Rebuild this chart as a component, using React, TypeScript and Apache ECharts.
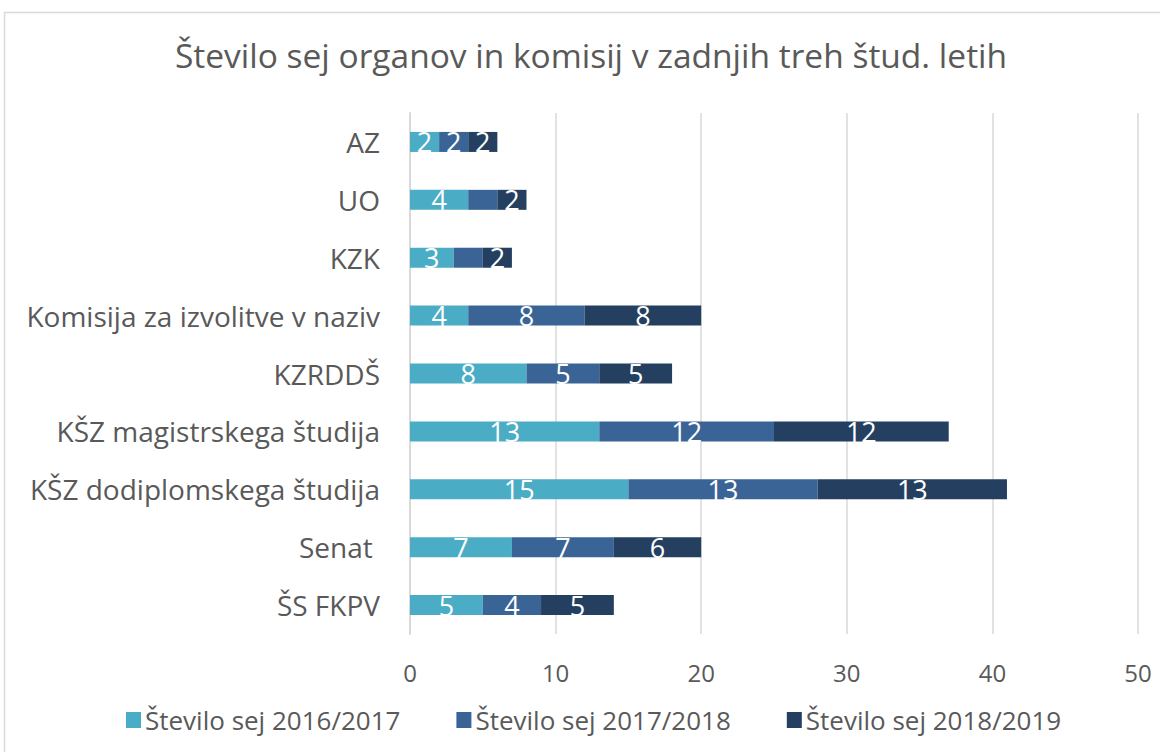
import React, { useEffect, useRef } from "react";
import * as echarts from "echarts";

const categories = [
  "ŠS FKPV",
  "Senat ",
  "KŠZ dodiplomskega študija",
  "KŠZ magistrskega študija",
  "KZRDDŠ",
  "Komisija za izvolitve v naziv",
  "KZK",
  "UO",
  "AZ",
];
const seriesNames = ["Število sej 2016/2017", "Število sej 2017/2018", "Število sej 2018/2019"];
const values2016 = [5, 7, 15, 13, 8, 4, 3, 4, 2];
const values2017 = [4, 7, 13, 12, 5, 8, 2, 2, 2];
const values2018 = [5, 6, 13, 12, 5, 8, 2, 2, 2];
// labels not shown in the reference (series index, category index)
const hiddenLabels = [
  [1, 6],
  [1, 7],
];
const xTicks = [0, 10, 20, 30, 40, 50];
const colors = ["#4bacc6", "#3a6496", "#253f61"];

export default function App() {
  const ref = useRef<HTMLDivElement>(null);
  useEffect(() => {
    const chart = echarts.init(ref.current!, null, { renderer: "svg" });
    const all = [values2016, values2017, values2018];
    const font = "'Open Sans', sans-serif";
    chart.setOption({
      animation: false,
      backgroundColor: "#ffffff",
      title: {
        text: "Število sej organov in komisij v zadnjih treh štud. letih",
        left: 586,
        top: 33,
        textAlign: "center",
        textStyle: {
          fontFamily: font,
          fontWeight: "normal",
          fontSize: 33.5,
          color: "#595959",
        },
      },
      graphic: [
        {
          type: "rect",
          shape: { x: 4.5, y: 12.5, width: 1300, height: 900 },
          style: { fill: "none", stroke: "#d9d9d9", lineWidth: 1.5 },
          silent: true,
          z: -1,
        },
      ],
      legend: {
        left: 121,
        top: 702,
        itemWidth: 15,
        itemHeight: 16,
        itemGap: 56,
        icon: "rect",
        textStyle: { fontFamily: font, fontSize: 26, color: "#595959", padding: [0, 0, 0, -1] },
        data: seriesNames,
      },
      grid: { left: 410, right: 22, top: 113, bottom: 118, containLabel: false },
      xAxis: {
        type: "value",
        min: xTicks[0],
        max: xTicks[xTicks.length - 1],
        interval: 10,
        axisLine: { show: false },
        axisTick: { show: false },
        splitLine: { show: true, lineStyle: { color: "#d9d9d9", width: 1.5 } },
        axisLabel: { fontFamily: font, fontSize: 24, color: "#595959", margin: 26 },
      },
      yAxis: {
        type: "category",
        data: categories,
        axisLine: { show: true, lineStyle: { color: "#d9d9d9", width: 2 } },
        axisTick: { show: false },
        axisLabel: { fontFamily: font, fontSize: 28, color: "#595959", margin: 30 },
      },
      series: seriesNames.map((name, si) => ({
        name,
        type: "bar",
        stack: "total",
        barWidth: 20,
        itemStyle: { color: colors[si] },
        label: {
          show: true,
          position: "inside",
          color: "#ffffff",
          fontFamily: font,
          fontSize: 27,
        },
        data: all[si].map((v, ci) =>
          hiddenLabels.some(([s, c]) => s === si && c === ci) ? { value: v, label: { show: false } } : v
        ),
      })),
    });
    return () => chart.dispose();
  }, []);
  return (
    <div
      ref={ref}
      style={{ position: "fixed", left: 0, top: 0, width: 1160, height: 752 }}
    />
  );
}
